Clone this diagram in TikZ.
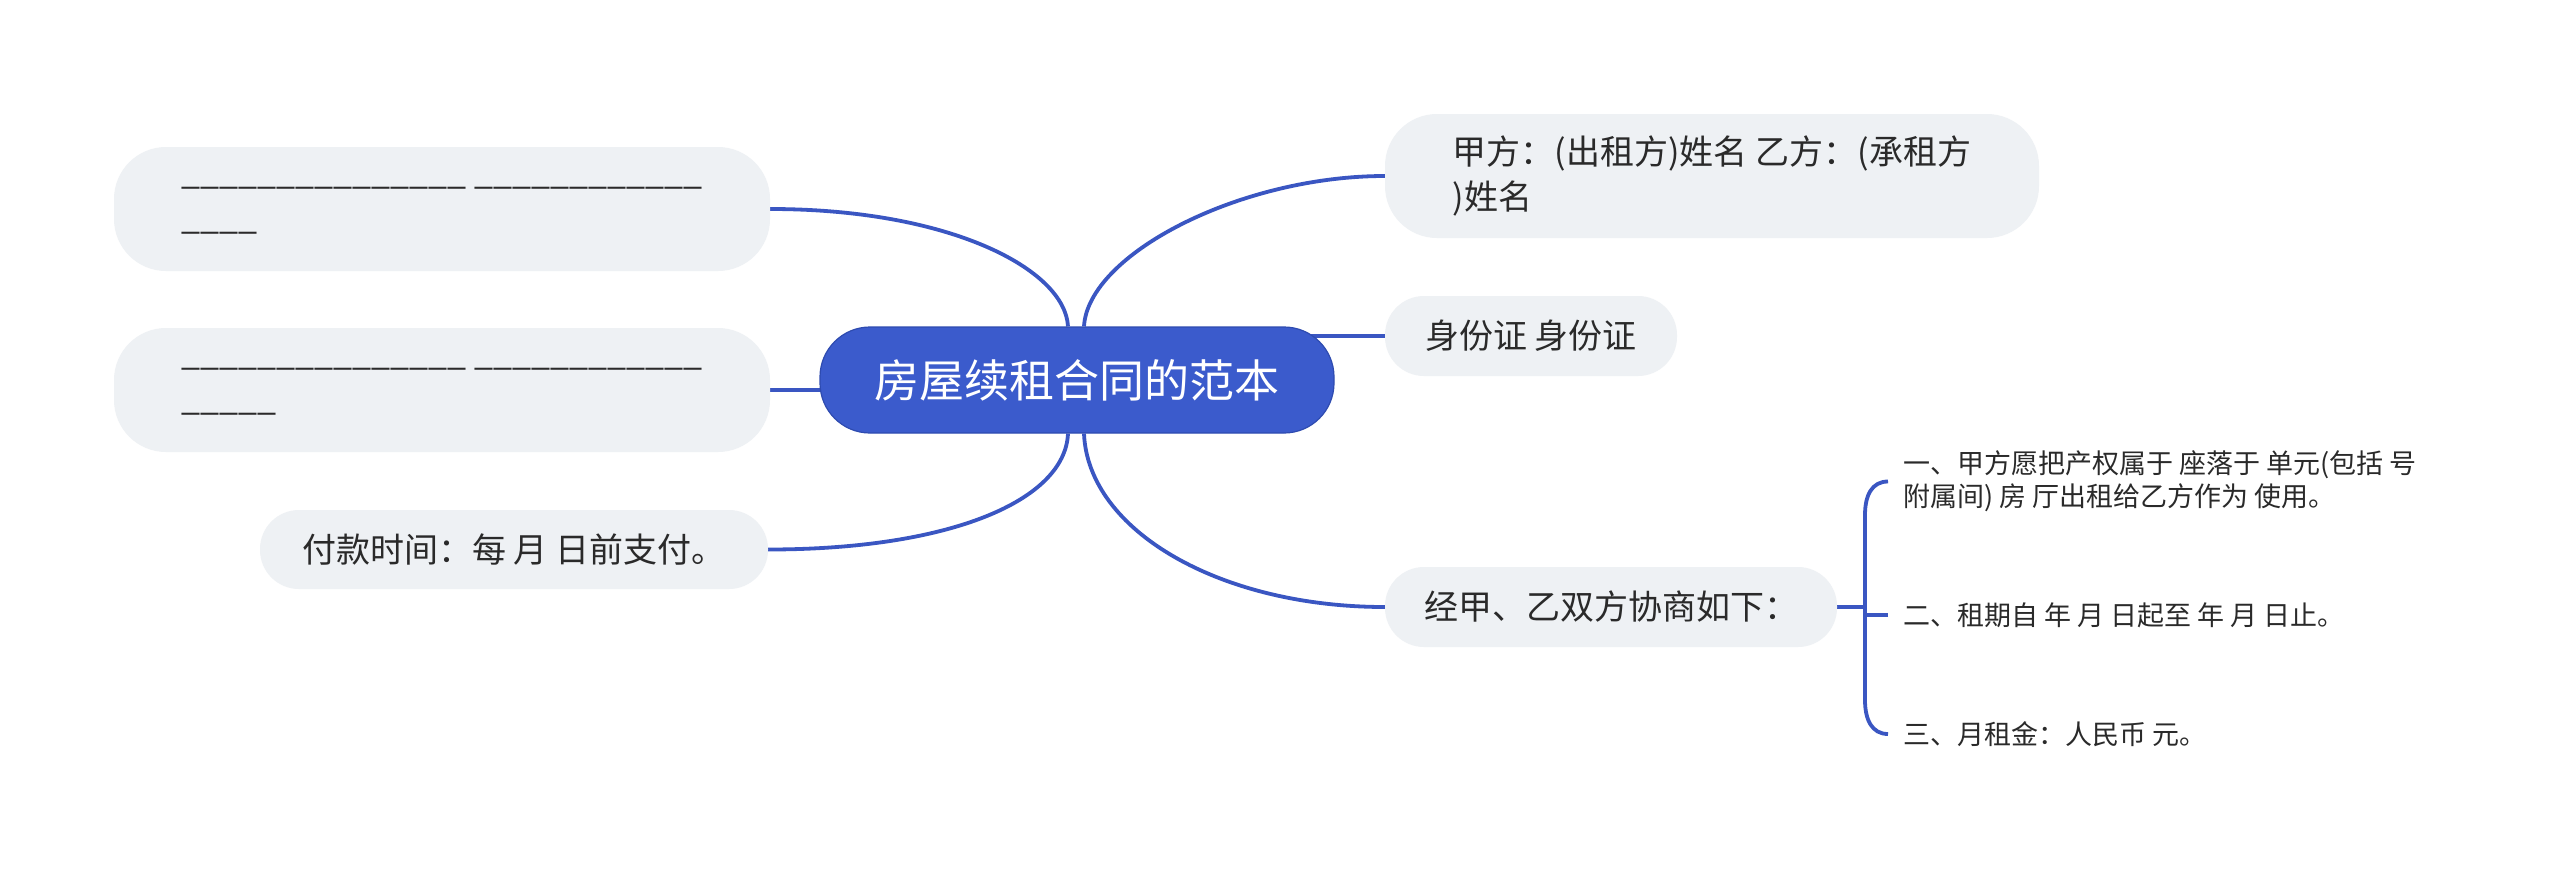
\documentclass[tikz,border=0pt]{standalone}
\usepackage{fontspec}
\setmainfont{Noto Sans CJK SC}
\definecolor{mainblue}{HTML}{3B5BCC}
\definecolor{mainborder}{HTML}{2E4BB0}
\definecolor{linkblue}{HTML}{3A56C2}
\definecolor{boxfill}{HTML}{EEF1F4}
\definecolor{txt}{HTML}{2A2A2A}
\pgfdeclarelayer{base}
\pgfdeclarelayer{bg}
\pgfsetlayers{base,bg,main}
\tikzset{
  topic/.style={fill=boxfill, rounded corners=#1, text=txt, align=left,
    inner xsep=8pt, inner ysep=0pt, font=\fontsize{34}{45}\selectfont},
  topic/.default=39pt,
  centre/.style={fill=mainblue, draw=mainborder, line width=1.2pt, rounded corners=50pt,
    text=white, inner sep=0pt, minimum width=514pt, minimum height=106pt,
    font=\fontsize{45}{54}\selectfont},
  item/.style={anchor=west, text=txt, align=left, inner xsep=15pt, inner ysep=0pt,
    font=\fontsize{27}{33}\selectfont},
  conn/.style={draw=linkblue, line width=3.8pt},
}
\begin{document}
\begin{tikzpicture}[x=1pt,y=-1pt]
\begin{pgfonlayer}{base}
\fill[white] (0,0) rectangle (2560,876);
\end{pgfonlayer}
\useasboundingbox (0,0) rectangle (2560,876);

\node[centre] (c) at (1077,380) {房屋续租合同的范本};

\node[topic=52pt, minimum width=656pt, minimum height=124pt] (lb1) at (442,209)
  {\_\_\_\_\_\_\_\_\_\_\_\_\_\_\_ \_\_\_\_\_\_\_\_\_\_\_\_\\\_\_\_\_};
\node[topic=52pt, minimum width=656pt, minimum height=124pt] (lb2) at (442,390)
  {\_\_\_\_\_\_\_\_\_\_\_\_\_\_\_ \_\_\_\_\_\_\_\_\_\_\_\_\\\_\_\_\_\_};
\node[topic, minimum width=508pt, minimum height=79pt] (lb3) at (514,549.5)
  {付款时间：每 月 日前支付。};

\node[topic=52pt, minimum width=654pt, minimum height=124pt] (rb1) at (1712,176)
  {甲方：(出租方)姓名 乙方：(承租方\\)姓名};
\node[topic, minimum width=292pt, minimum height=80pt] (rb2) at (1531,336)
  {身份证 身份证};
\node[topic, minimum width=452pt, minimum height=80pt] (rb3) at (1611,607)
  {经甲、乙双方协商如下：};

\node[item] (i1) at (1888,481.5) {一、甲方愿把产权属于 座落于 单元(包括 号\\附属间) 房 厅出租给乙方作为 使用。};
\node[item] (i2) at (1888,615) {二、租期自 年 月 日起至 年 月 日止。};
\node[item] (i3) at (1888,734) {三、月租金：人民币 元。};

\coordinate (bk) at (1865,607);

\begin{pgfonlayer}{bg}
\draw[conn] ([xshift=-9pt]c.north) .. controls +(-3,-57) and +(180,0) .. (lb1.east);
\draw[conn] ([xshift=7pt]c.north) .. controls +(4,-72) and +(-145,0) .. (rb1.west);
\draw[conn] ([xshift=-9pt]c.south) .. controls +(-3,67) and +(182,0) .. (lb3.east);
\draw[conn] ([xshift=7pt]c.south) .. controls +(4,97) and +(-165,0) .. (rb3.west);
\draw[conn] (lb2.east) -- (lb2.east -| c.center);
\draw[conn] (rb2.west) -- (rb2.west -| c.center);
\draw[conn] (rb3.east) -- (bk);
\draw[conn] (i1.west) .. controls +(-16,0) and +(0,-20) .. (1865,515) -- (1865,700)
  .. controls +(0,20) and +(-16,0) .. (i3.west);
\draw[conn] (i2.west) -- (i2.west -| bk);
\end{pgfonlayer}
\end{tikzpicture}
\end{document}
